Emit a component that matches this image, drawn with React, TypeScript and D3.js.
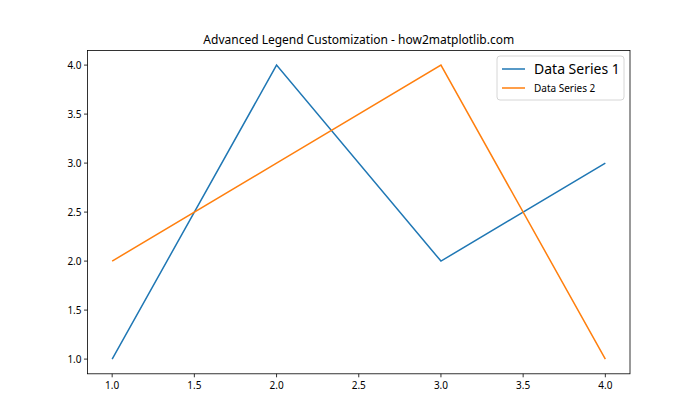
import React from "react";
import * as d3 from "d3";

const xValues = [1, 2, 3, 4];
const series1 = [1, 4, 2, 3];
const series2 = [2, 3, 4, 1];
const seriesNames = ["Data Series 1", "Data Series 2"];
const colors = ["#1f77b4", "#ff7f0e"];
const xTicks = [1.0, 1.5, 2.0, 2.5, 3.0, 3.5, 4.0];
const yTicks = [1.0, 1.5, 2.0, 2.5, 3.0, 3.5, 4.0];
const title = "Advanced Legend Customization - how2matplotlib.com";

const W = 700, H = 420;
const left = 87.5, right = 630, top = 50.4, bottom = 373.8;
const font = "'Noto Sans', 'DejaVu Sans', sans-serif";

export default function App() {
  const x = d3.scaleLinear().domain([0.85, 4.15]).range([left, right]);
  const y = d3.scaleLinear().domain([0.85, 4.15]).range([bottom, top]);
  const line = d3.line<number>().x((_, i) => x(xValues[i])).y((d) => y(d));
  const data = [series1, series2];
  return (
    <svg width={W} height={H} style={{ position: "absolute", left: 0, top: 0, background: "#fff" }} fontFamily={font}>
      <rect x={0} y={0} width={W} height={H} fill="#fff" />
      {data.map((s, i) => (
        <path key={i} d={line(s) || ""} fill="none" stroke={colors[i]} strokeWidth={1.5} />
      ))}
      <rect x={left} y={top} width={right - left} height={bottom - top} fill="none" stroke="#000" strokeWidth={0.8} />
      {xTicks.map((t) => (
        <g key={"x" + t}>
          <line x1={x(t)} x2={x(t)} y1={bottom} y2={bottom + 3.5} stroke="#000" strokeWidth={0.8} />
          <text x={x(t)} y={bottom + 15} fontSize={10} textAnchor="middle" fill="#000">{t.toFixed(1)}</text>
        </g>
      ))}
      {yTicks.map((t) => (
        <g key={"y" + t}>
          <line x1={left - 3.5} x2={left} y1={y(t)} y2={y(t)} stroke="#000" strokeWidth={0.8} />
          <text x={left - 6} y={y(t) + 3.5} fontSize={10} textAnchor="end" fill="#000">{t.toFixed(1)}</text>
        </g>
      ))}
      <text x={(left + right) / 2} y={top - 6} fontSize={12} textAnchor="middle" fill="#000">{title}</text>
      <rect x={497} y={56} width={127} height={44} rx={3} fill="#fff" fillOpacity={0.8} stroke="#ccc" strokeWidth={0.8} />
      <line x1={502} x2={525} y1={69} y2={69} stroke={colors[0]} strokeWidth={1.5} />
      <text x={534} y={74} fontSize={14} fill="#000">{seriesNames[0]}</text>
      <line x1={502} x2={525} y1={88} y2={88} stroke={colors[1]} strokeWidth={1.5} />
      <text x={534} y={91.5} fontSize={10} fill="#000">{seriesNames[1]}</text>
    </svg>
  );
}
